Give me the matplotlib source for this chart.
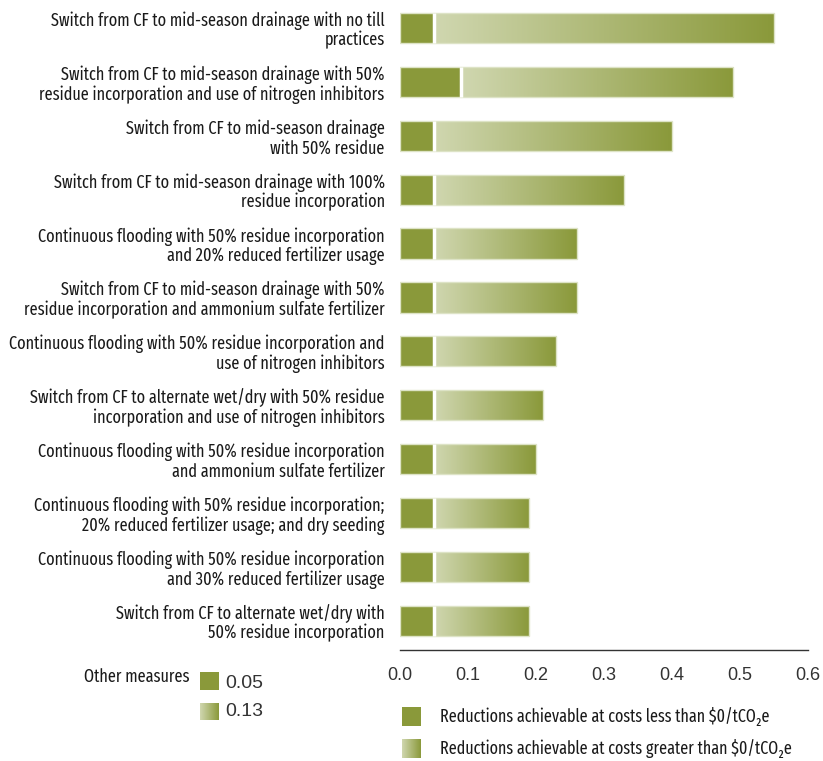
import numpy as np
import matplotlib
matplotlib.use("Agg")
import matplotlib.pyplot as plt
from matplotlib.colors import LinearSegmentedColormap
from matplotlib.patches import Rectangle

labels = [
    "Switch from CF to mid-season drainage with no till\npractices",
    "Switch from CF to mid-season drainage with 50%\nresidue incorporation and use of nitrogen inhibitors",
    "Switch from CF to mid-season drainage\nwith 50% residue",
    "Switch from CF to mid-season drainage with 100%\nresidue incorporation",
    "Continuous flooding with 50% residue incorporation\nand 20% reduced fertilizer usage",
    "Switch from CF to mid-season drainage with 50%\nresidue incorporation and ammonium sulfate fertilizer",
    "Continuous flooding with 50% residue incorporation and\nuse of nitrogen inhibitors",
    "Switch from CF to alternate wet/dry with 50% residue\nincorporation and use of nitrogen inhibitors",
    "Continuous flooding with 50% residue incorporation\nand ammonium sulfate fertilizer",
    "Continuous flooding with 50% residue incorporation;\n20% reduced fertilizer usage; and dry seeding",
    "Continuous flooding with 50% residue incorporation\nand 30% reduced fertilizer usage",
    "Switch from CF to alternate wet/dry with\n50% residue incorporation",
]
below_zero = [0.05, 0.09, 0.05, 0.05, 0.05, 0.05, 0.05, 0.05, 0.05, 0.05, 0.05, 0.05]
totals = [0.55, 0.49, 0.40, 0.33, 0.26, 0.26, 0.23, 0.21, 0.20, 0.19, 0.19, 0.19]
above_zero = [t - b for t, b in zip(totals, below_zero)]
xticks = [0.0, 0.1, 0.2, 0.3, 0.4, 0.5, 0.6]
other_values = ["0.05", "0.13"]
legend_labels = ["Reductions achievable at costs less than $0/tCO\u2082e",
                 "Reductions achievable at costs greater than $0/tCO\u2082e"]

SOLID = "#8a993a"
LIGHT = "#d0d7b0"
EDGE = "#dde3c6"
cmap = LinearSegmentedColormap.from_list("g", [LIGHT, SOLID])
grad = np.linspace(0, 1, 256).reshape(1, -1)

NARROW = ["Fira Sans Extra Condensed", "DejaVu Sans"]
W, H = 823, 761
fig = plt.figure(figsize=(W / 100, H / 100), dpi=100)
renderer = fig.canvas.get_renderer()

def fit_size(text, target_px):
    t = fig.text(0, 0, text, fontsize=12, family=NARROW)
    w = t.get_window_extent(renderer).width
    t.remove()
    return 12 * target_px / w

LFS = min(fit_size("Switch from CF to mid-season drainage with no till", 342.0),
          fit_size("Continuous flooding with 50% residue incorporation and", 378.0))
GFS = fit_size(legend_labels[0], 331.0)

ax = fig.add_axes([400 / W, 1 - 650 / H, 408 / W, (650 - 1) / H])

n = len(labels)
y = np.arange(n)
bh = 0.56
ax.barh(y, below_zero, height=bh, color=SOLID, edgecolor=EDGE, linewidth=1.0, zorder=3)
bars2 = ax.barh(y, above_zero, left=below_zero, height=bh, facecolor="none",
                edgecolor=EDGE, linewidth=1.0, zorder=4)
for i, p in enumerate(bars2.patches):
    im = ax.imshow(grad, cmap=cmap, aspect="auto", interpolation="bilinear",
                   extent=[below_zero[i], totals[i], i + bh / 2, i - bh / 2], zorder=3)
    im.set_clip_path(p)
# white separator between the two segments
ax.vlines(below_zero, y - bh / 2, y + bh / 2, color="white", linewidth=2.5, zorder=5)

ax.set_xlim(0, 0.6)
ax.set_ylim(n - 1 + 0.54, -0.5)
ax.set_xticks(xticks)
ax.set_xticklabels([f"{v:.1f}" for v in xticks], fontsize=13, family="Liberation Sans", color="#333333")
ax.set_yticks(y)
ax.set_yticklabels(labels, fontsize=LFS, family=NARROW, color="#1a1a1a", linespacing=1.08)
ax.tick_params(axis="both", length=0)
ax.tick_params(axis="x", pad=12)
ax.tick_params(axis="y", pad=11)
for s in ["top", "right", "left"]:
    ax.spines[s].set_visible(False)
ax.spines["bottom"].set_color("#333333")
ax.spines["bottom"].set_linewidth(1.0)

def fx(px):
    return px / W

def fy(py):
    return 1 - py / H

# Other measures legend
fig.text(fx(190), fy(677), "Other measures", ha="right", va="center", fontsize=LFS,
         family=NARROW, color="#1a1a1a")
fig.patches.append(Rectangle((fx(200), fy(690)), fx(19), 18 / H, transform=fig.transFigure,
                             facecolor=SOLID, edgecolor="none"))
gax = fig.add_axes([fx(200), fy(720), fx(19), 17 / H])
gax.imshow(grad, cmap=cmap, aspect="auto", interpolation="bilinear")
gax.axis("off")
fig.text(fx(225), fy(684), other_values[0], ha="left", va="center", fontsize=14,
         family="Liberation Sans", color="#333333")
fig.text(fx(225), fy(712), other_values[1], ha="left", va="center", fontsize=14,
         family="Liberation Sans", color="#333333")

# bottom legend
fig.patches.append(Rectangle((fx(402), fy(726)), fx(19), 19 / H, transform=fig.transFigure,
                             facecolor=SOLID, edgecolor="none"))
gax2 = fig.add_axes([fx(402), fy(758), fx(19), 19 / H])
gax2.imshow(grad, cmap=cmap, aspect="auto", interpolation="bilinear")
gax2.axis("off")
fig.text(fx(440), fy(717), legend_labels[0], ha="left", va="center", fontsize=GFS,
         family=NARROW, color="#1a1a1a")
fig.text(fx(440), fy(749), legend_labels[1], ha="left", va="center", fontsize=GFS,
         family=NARROW, color="#1a1a1a")

fig.savefig("out.png", dpi=100, facecolor="white")
